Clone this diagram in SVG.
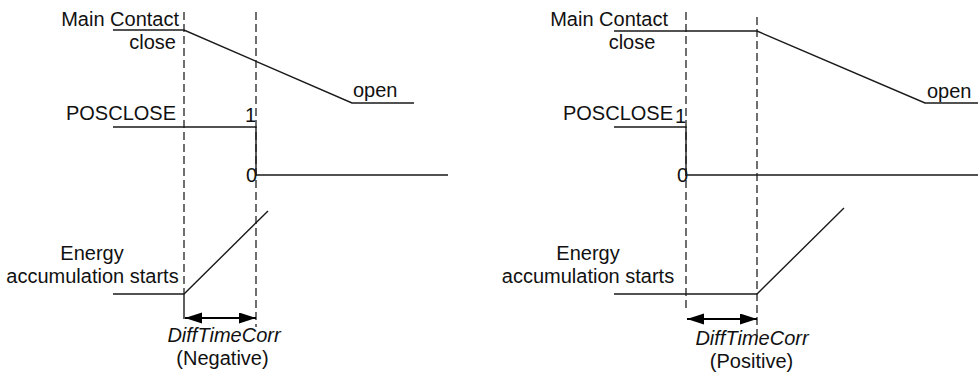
<svg xmlns="http://www.w3.org/2000/svg" width="979" height="376" viewBox="0 0 979 376">
<defs>
<style>
text{font-family:"Liberation Sans",Arial,sans-serif;font-size:20px;fill:#111}
.it{font-style:italic}
.end{text-anchor:end}
.mid{text-anchor:middle}
.sig{fill:none;stroke:#1a1a1a;stroke-width:1.4}
.dash{fill:none;stroke:#222;stroke-width:1.3;stroke-dasharray:8,4}
.dim{fill:none;stroke:#000;stroke-width:1.8}
</style>
<marker id="ah" markerUnits="userSpaceOnUse" markerWidth="18" markerHeight="12" refX="17" refY="5.5" orient="auto-start-reverse">
<path d="M0,0 L17,5.5 L0,11 Z" fill="#000"/>
</marker>
</defs>
<rect width="979" height="376" fill="#fff"/>

<g id="left-diagram">
  <g id="left-labels">
    <text class="end" x="179" y="26">Main Contact</text>
    <text class="end" x="176" y="49">close</text>
    <text x="353" y="97">open</text>
    <text class="end" x="176" y="120">POSCLOSE</text>
    <text class="end" x="256" y="122">1</text>
    <text class="end" x="257" y="182">0</text>
    <text class="mid" x="92" y="260">Energy</text>
    <text class="mid" x="92.5" y="283">accumulation starts</text>
    <text class="mid it" x="224" y="342">DiffTimeCorr</text>
    <text class="mid" x="222.5" y="365">(Negative)</text>
  </g>
</g>

<g id="right-diagram">
  <g id="right-labels">
    <text class="end" x="668" y="26">Main Contact</text>
    <text class="mid" x="632" y="49">close</text>
    <text x="927" y="98">open</text>
    <text class="end" x="673" y="120">POSCLOSE</text>
    <text class="end" x="686" y="123">1</text>
    <text class="end" x="688" y="182">0</text>
    <text class="mid" x="588" y="260">Energy</text>
    <text class="mid" x="588" y="283">accumulation starts</text>
    <text class="mid it" x="752" y="345">DiffTimeCorr</text>
    <text class="mid" x="751.5" y="368">(Positive)</text>
  </g>
</g>

<g id="connectors">
  <!-- left -->
  <line class="dash" x1="184" y1="12" x2="184" y2="294"/>
  <line class="dash" x1="256" y1="12" x2="256" y2="327"/>
  <polyline class="sig" points="113,30 184,30 352,103 414,103"/>
  <polyline class="sig" points="113,127 256,127 256,175 448,175"/>
  <polyline class="sig" points="113,294 184,294 268,211"/>
  <line class="sig" x1="184" y1="294" x2="184" y2="319"/>
  <line class="dim" x1="185" y1="318" x2="256" y2="318" marker-start="url(#ah)" marker-end="url(#ah)"/>
  <!-- right -->
  <line class="dash" x1="686" y1="12" x2="686" y2="308"/>
  <line class="dash" x1="757" y1="17" x2="757" y2="337"/>
  <polyline class="sig" points="614,31 757,31 925,103 978,103"/>
  <polyline class="sig" points="614,127 686,127 686,175 978,175"/>
  <polyline class="sig" points="614,294 757,294 844,208"/>
  <line class="dim" x1="687" y1="319" x2="757" y2="319" marker-start="url(#ah)" marker-end="url(#ah)"/>
</g>
</svg>
